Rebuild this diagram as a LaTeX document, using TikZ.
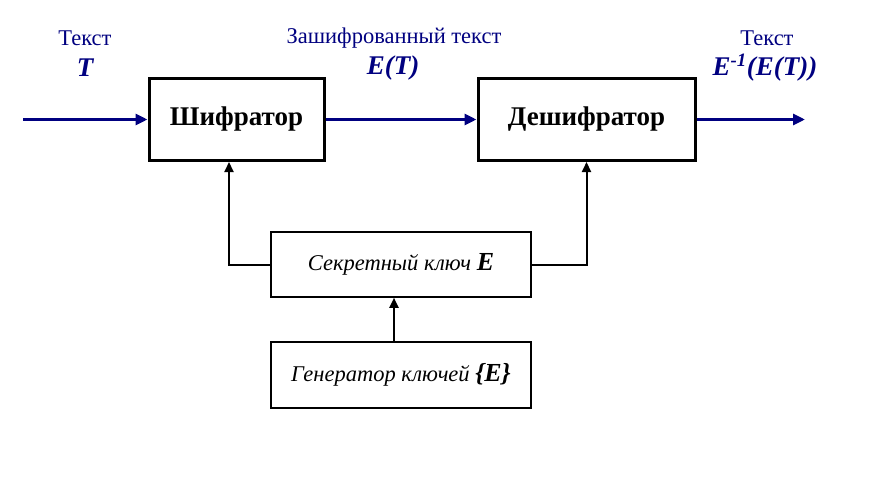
\documentclass[tikz,border=0pt]{standalone}
\usepackage{fontspec}
\setmainfont{Liberation Serif}
\usetikzlibrary{arrows.meta}
\definecolor{navy}{RGB}{0,0,128}

\begin{document}
\begin{tikzpicture}[x=1pt, y=-1pt,
    every node/.style={inner sep=0pt},
    bigbox/.style={draw, line width=3pt, minimum height=82pt, font=\fontsize{27}{30}\selectfont\bfseries},
    keybox/.style={draw, line width=1.6pt, minimum width=260pt, minimum height=65pt, font=\fontsize{22.5}{25}\selectfont\itshape},
    lbl/.style={text=navy, font=\fontsize{22.5}{25}\selectfont},
    sym/.style={text=navy, font=\fontsize{27}{30}\selectfont\bfseries\itshape},
    flow/.style={navy, line width=3.5pt, -{Triangle[length=12pt,width=11pt]}},
    keyline/.style={line width=2pt, -{Triangle[length=10pt,width=9pt]}}]
      \useasboundingbox (0,0) rectangle (890,481);

      % blocks
      \node[bigbox, minimum width=175pt] (enc) at (236.5,119.5) {Шифратор};
      \node[bigbox, minimum width=217pt] (dec) at (586.5,119.5) {Дешифратор};
      \node[keybox] (key) at (401,264.5) {Секретный ключ {\fontsize{26}{28}\selectfont\bfseries E}};
      \node[keybox, minimum height=66pt] (gen) at (401,375) {Генератор ключей {\fontsize{26}{28}\selectfont\bfseries\{E\}}};

      % labels
      \node[lbl] (tin) at (85,38) {Текст};
      \node[sym] (Tin) at (85,68) {T};
      \node[lbl] (tmid) at (394,38) {Зашифрованный текст};
      \node[sym] (Tmid) at (393,68) {E(T)};
      \node[lbl] (tout) at (767,38) {Текст};
      \node[sym] (Tout) at (765,68) {E\textsuperscript{-1}(E(T))};

      % flow
      \coordinate (in) at (23,119.5);
      \coordinate (out) at (805,119.5);
      \draw[flow] (in) -- (enc.west);
      \draw[flow] (enc.east) -- (dec.west);
      \draw[flow] (dec.east) -- (out);

      % key lines
      \draw[keyline] (key.west) -| ([xshift=-7.5pt]enc.south);
      \draw[keyline] (key.east) -| (dec.south);
      \draw[keyline] ([xshift=-7pt]gen.north) -- ([xshift=-7pt]key.south);
\end{tikzpicture}
\end{document}
